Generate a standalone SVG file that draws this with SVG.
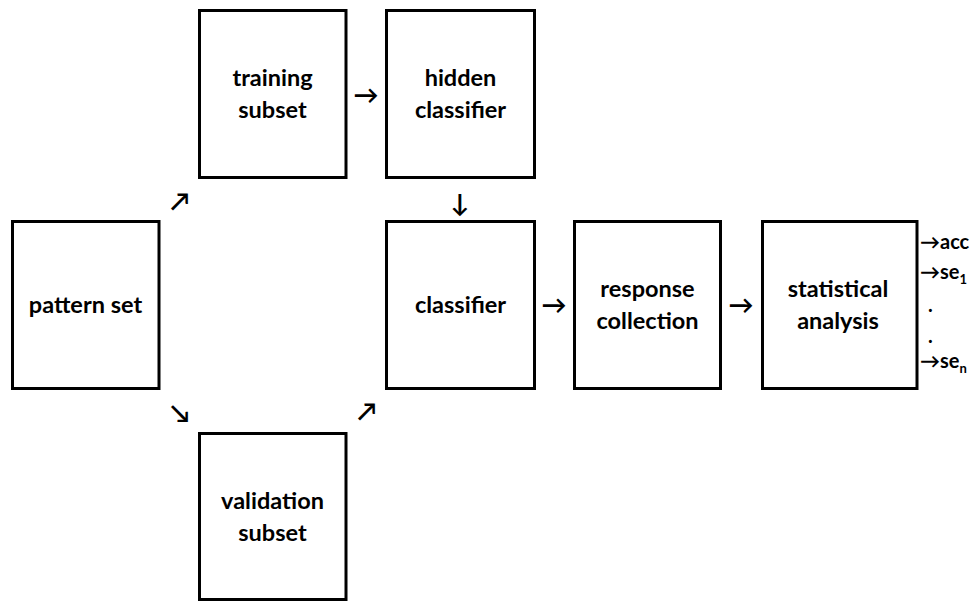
<svg xmlns="http://www.w3.org/2000/svg" width="977" height="601" viewBox="0 0 977 601">
  <style>
    .box { fill: #ffffff; stroke: #000000; stroke-width: 3; }
    .lbl { font-family: Lato, "Liberation Sans", sans-serif; font-weight: bold; font-size: 23.5px; fill: #000000; text-anchor: middle; }
    .arr { font-family: Lato, "DejaVu Sans", sans-serif; font-weight: bold; font-size: 25px; fill: #000000; text-anchor: middle; }
    .out { font-family: Lato, "DejaVu Sans", sans-serif; font-weight: bold; font-size: 20px; fill: #000000; }
    .sub { font-size: 13px; }
  </style>
  <rect width="977" height="601" fill="#ffffff"/>

  <g id="pattern-set">
    <rect class="box" x="12.5" y="221.5" width="146.5" height="167"/>
    <text class="lbl" x="85.5" y="313">pattern set</text>
  </g>
  <g id="training-subset">
    <rect class="box" x="199.5" y="10.5" width="146.5" height="167"/>
    <text class="lbl" x="272.5" y="86">training</text>
    <text class="lbl" x="272.5" y="118">subset</text>
  </g>
  <g id="hidden-classifier">
    <rect class="box" x="386.5" y="10.5" width="148" height="167"/>
    <text class="lbl" x="460.5" y="86">hidden</text>
    <text class="lbl" x="460.5" y="118">classifier</text>
  </g>
  <g id="validation-subset">
    <rect class="box" x="199.5" y="433.5" width="146.5" height="166"/>
    <text class="lbl" x="272.5" y="509">validation</text>
    <text class="lbl" x="272.5" y="541">subset</text>
  </g>
  <g id="classifier">
    <rect class="box" x="386.5" y="221.5" width="148" height="167"/>
    <text class="lbl" x="460.5" y="313">classifier</text>
  </g>
  <g id="response-collection">
    <rect class="box" x="574.5" y="221.5" width="146" height="167"/>
    <text class="lbl" x="647.5" y="297">response</text>
    <text class="lbl" x="647.5" y="329">collection</text>
  </g>
  <g id="statistical-analysis">
    <rect class="box" x="762.5" y="221.5" width="154.5" height="167"/>
    <text class="lbl" x="838" y="297">statistical</text>
    <text class="lbl" x="838" y="329">analysis</text>
  </g>

  <g id="connectors">
    <text class="arr" x="180" y="210">↗</text>
    <text class="arr" x="366" y="104">→</text>
    <text class="arr" x="460" y="212">↓</text>
    <text class="arr" x="180" y="422">↘</text>
    <text class="arr" x="367" y="420">↗</text>
    <text class="arr" x="554" y="314">→</text>
    <text class="arr" x="741" y="314">→</text>
  </g>

  <g id="outputs">
    <text class="out" x="920" y="249">→acc</text>
    <text class="out" x="920" y="279">→se<tspan class="sub" dy="5">1</tspan></text>
    <text class="out" x="928" y="312">.</text>
    <text class="out" x="928" y="343">.</text>
    <text class="out" x="920" y="368">→se<tspan class="sub" dy="5">n</tspan></text>
  </g>
</svg>
